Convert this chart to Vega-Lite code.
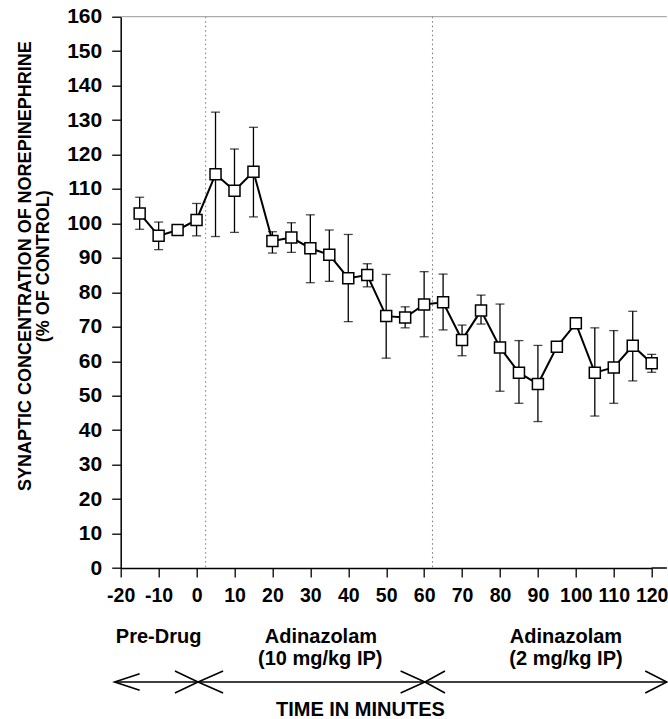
{
  "$schema": "https://vega.github.io/schema/vega-lite/v6.json",
  "width": 531,
  "height": 551.3,
  "autosize": {"type": "none"},
  "padding": {"left": 120.7, "top": 16.7, "right": 16.3, "bottom": 151},
  "config": {
    "view": {"stroke": null},
    "font": "Liberation Sans",
    "axis": {
      "domainColor": "#000",
      "domainWidth": 1.5,
      "tickColor": "#000",
      "tickWidth": 1.3,
      "tickSize": 9,
      "labelFont": "Liberation Sans",
      "labelFontWeight": "bold",
      "labelFontSize": 21,
      "labelColor": "#000",
      "labelOverlap": false,
      "labelFlush": false,
      "titleFont": "Liberation Sans",
      "titleColor": "#000",
      "grid": false
    },
    "axisX": {"labelFontSize": 19.5}
  },
  "datasets": {
    "obs": [
      {"t": -15, "v": 102.9, "lo": 98.3, "hi": 107.6},
      {"t": -10, "v": 96.4, "lo": 92.4, "hi": 100.4},
      {"t": -5, "v": 98.1, "lo": 97.0, "hi": 99.2},
      {"t": 0, "v": 101.0, "lo": 96.4, "hi": 105.8},
      {"t": 5, "v": 114.3, "lo": 96.2, "hi": 132.3},
      {"t": 10, "v": 109.5, "lo": 97.4, "hi": 121.6},
      {"t": 15, "v": 115.0, "lo": 101.9, "hi": 127.9},
      {"t": 20, "v": 94.9, "lo": 91.4, "hi": 97.6},
      {"t": 25, "v": 95.9, "lo": 91.6, "hi": 100.2},
      {"t": 30, "v": 92.8, "lo": 82.8, "hi": 102.5},
      {"t": 35, "v": 90.9, "lo": 83.2, "hi": 98.1},
      {"t": 40, "v": 84.1, "lo": 71.5, "hi": 96.8},
      {"t": 45, "v": 85.0, "lo": 81.6, "hi": 88.3},
      {"t": 50, "v": 73.1, "lo": 60.9, "hi": 85.2},
      {"t": 55, "v": 72.7, "lo": 69.7, "hi": 75.8},
      {"t": 60, "v": 76.5, "lo": 67.1, "hi": 86.0},
      {"t": 65, "v": 77.1, "lo": 69.1, "hi": 85.3},
      {"t": 70, "v": 66.2, "lo": 61.6, "hi": 70.5},
      {"t": 75, "v": 74.7, "lo": 70.8, "hi": 79.2},
      {"t": 80, "v": 64.0, "lo": 51.3, "hi": 76.6},
      {"t": 85, "v": 56.7, "lo": 47.8, "hi": 66.0},
      {"t": 90, "v": 53.4, "lo": 42.5, "hi": 64.6},
      {"t": 95, "v": 64.2, "lo": 63.0, "hi": 65.4},
      {"t": 100, "v": 71.0, "lo": 70.0, "hi": 72.0},
      {"t": 105, "v": 56.7, "lo": 44.1, "hi": 69.7},
      {"t": 110, "v": 58.2, "lo": 47.8, "hi": 68.9},
      {"t": 115, "v": 64.5, "lo": 54.3, "hi": 74.5},
      {"t": 120, "v": 59.4, "lo": 56.8, "hi": 62.0}
    ],
    "phases": [{"t": 2.4}, {"t": 62.2}],
    "topline": [{"a": -20, "b": 124, "y": 160}],
    "baseext": [{"a": 120, "b": 124, "y": 0}],
    "labels": [
      {"t": -10, "y": -19.9, "text": "Pre-Drug"},
      {"t": 32.8, "y": -19.9, "text": "Adinazolam"},
      {"t": 32.6, "y": -26.3, "text": "(10 mg/kg IP)"},
      {"t": 97.4, "y": -19.9, "text": "Adinazolam"},
      {"t": 97.4, "y": -26.3, "text": "(2 mg/kg IP)"},
      {"t": 43.2, "y": -41.2, "text": "TIME IN MINUTES"}
    ],
    "arrows": [
      {"seg": "main", "o": 0, "t": -21.6, "y": -33.1},
      {"seg": "main", "o": 1, "t": 124, "y": -33.1},
      {"seg": "L", "o": 0, "t": -15, "y": -30.7},
      {"seg": "L", "o": 1, "t": -21.6, "y": -33.1},
      {"seg": "L", "o": 2, "t": -15, "y": -35.5},
      {"seg": "X1a", "o": 0, "t": -5.7, "y": -29.9},
      {"seg": "X1a", "o": 1, "t": 0.4, "y": -33.1},
      {"seg": "X1a", "o": 2, "t": -5.7, "y": -36.3},
      {"seg": "X1b", "o": 0, "t": 7, "y": -29.9},
      {"seg": "X1b", "o": 1, "t": 0.4, "y": -33.1},
      {"seg": "X1b", "o": 2, "t": 7, "y": -36.3},
      {"seg": "X2a", "o": 0, "t": 53.8, "y": -29.9},
      {"seg": "X2a", "o": 1, "t": 60.2, "y": -33.1},
      {"seg": "X2a", "o": 2, "t": 53.8, "y": -36.3},
      {"seg": "X2b", "o": 0, "t": 65.5, "y": -29.9},
      {"seg": "X2b", "o": 1, "t": 60.2, "y": -33.1},
      {"seg": "X2b", "o": 2, "t": 65.5, "y": -36.3},
      {"seg": "R", "o": 0, "t": 118.3, "y": -29.9},
      {"seg": "R", "o": 1, "t": 124, "y": -33.1},
      {"seg": "R", "o": 2, "t": 118.3, "y": -36.3}
    ]
  },
  "encoding": {
    "x": {
      "type": "quantitative",
      "scale": {"domain": [-20, 120], "nice": false, "zero": false},
      "axis": {
        "values": [-20, -10, 0, 10, 20, 30, 40, 50, 60, 70, 80, 90, 100, 110, 120],
        "labelExpr": "'' + datum.value",
        "title": null,
        "labelPadding": 9
      }
    },
    "y": {
      "type": "quantitative",
      "scale": {"domain": [0, 160], "nice": false, "zero": false},
      "axis": {
        "values": [0, 10, 20, 30, 40, 50, 60, 70, 80, 90, 100, 110, 120, 130, 140, 150, 160],
        "labelExpr": "'' + datum.value",
        "title": ["SYNAPTIC CONCENTRATION OF NOREPINEPHRINE", "(% OF CONTROL)"],
        "titleFontSize": 18,
        "titleFontWeight": "bold",
        "titleLineHeight": 18,
        "titlePadding": 14,
        "titleY": 249,
        "labelPadding": 10
      }
    }
  },
  "layer": [
    {
      "data": {"name": "phases"},
      "mark": {"type": "rule", "color": "#777", "strokeWidth": 1, "strokeDash": [1.5, 3]},
      "encoding": {
        "x": {"field": "t", "type": "quantitative"}
      }
    },
    {
      "data": {"name": "topline"},
      "mark": {"type": "rule", "color": "#999", "strokeWidth": 1},
      "encoding": {
        "x": {"field": "a", "type": "quantitative"},
        "x2": {"field": "b"},
        "y": {"field": "y", "type": "quantitative"}
      }
    },
    {
      "data": {"name": "baseext"},
      "mark": {"type": "rule", "color": "#000", "strokeWidth": 1.5},
      "encoding": {
        "x": {"field": "a", "type": "quantitative"},
        "x2": {"field": "b"},
        "y": {"field": "y", "type": "quantitative"}
      }
    },
    {
      "data": {"name": "obs"},
      "mark": {"type": "rule", "color": "#000", "strokeWidth": 1.3},
      "encoding": {
        "x": {"field": "t", "type": "quantitative"},
        "y": {"field": "lo", "type": "quantitative"},
        "y2": {"field": "hi"}
      }
    },
    {
      "data": {"name": "obs"},
      "mark": {"type": "tick", "orient": "horizontal", "color": "#000", "size": 9, "thickness": 1.3},
      "encoding": {
        "x": {"field": "t", "type": "quantitative"},
        "y": {"field": "lo", "type": "quantitative"}
      }
    },
    {
      "data": {"name": "obs"},
      "mark": {"type": "tick", "orient": "horizontal", "color": "#000", "size": 9, "thickness": 1.3},
      "encoding": {
        "x": {"field": "t", "type": "quantitative"},
        "y": {"field": "hi", "type": "quantitative"}
      }
    },
    {
      "data": {"name": "obs"},
      "mark": {"type": "line", "color": "#000", "strokeWidth": 2},
      "encoding": {
        "x": {"field": "t", "type": "quantitative"},
        "y": {"field": "v", "type": "quantitative"}
      }
    },
    {
      "data": {"name": "obs"},
      "mark": {"type": "point", "shape": "square", "size": 121, "filled": true, "fill": "#fff", "stroke": "#000", "strokeWidth": 1.5, "opacity": 1},
      "encoding": {
        "x": {"field": "t", "type": "quantitative"},
        "y": {"field": "v", "type": "quantitative"}
      }
    },
    {
      "data": {"name": "labels"},
      "mark": {"type": "text", "font": "Liberation Sans", "fontWeight": "bold", "fontSize": 20, "color": "#000", "align": "center", "baseline": "middle"},
      "encoding": {
        "x": {"field": "t", "type": "quantitative"},
        "y": {"field": "y", "type": "quantitative"},
        "text": {"field": "text"}
      }
    },
    {
      "data": {"name": "arrows"},
      "mark": {"type": "line", "color": "#000", "strokeWidth": 1.6},
      "encoding": {
        "x": {"field": "t", "type": "quantitative"},
        "y": {"field": "y", "type": "quantitative"},
        "detail": {"field": "seg"},
        "order": {"field": "o"}
      }
    }
  ]
}
